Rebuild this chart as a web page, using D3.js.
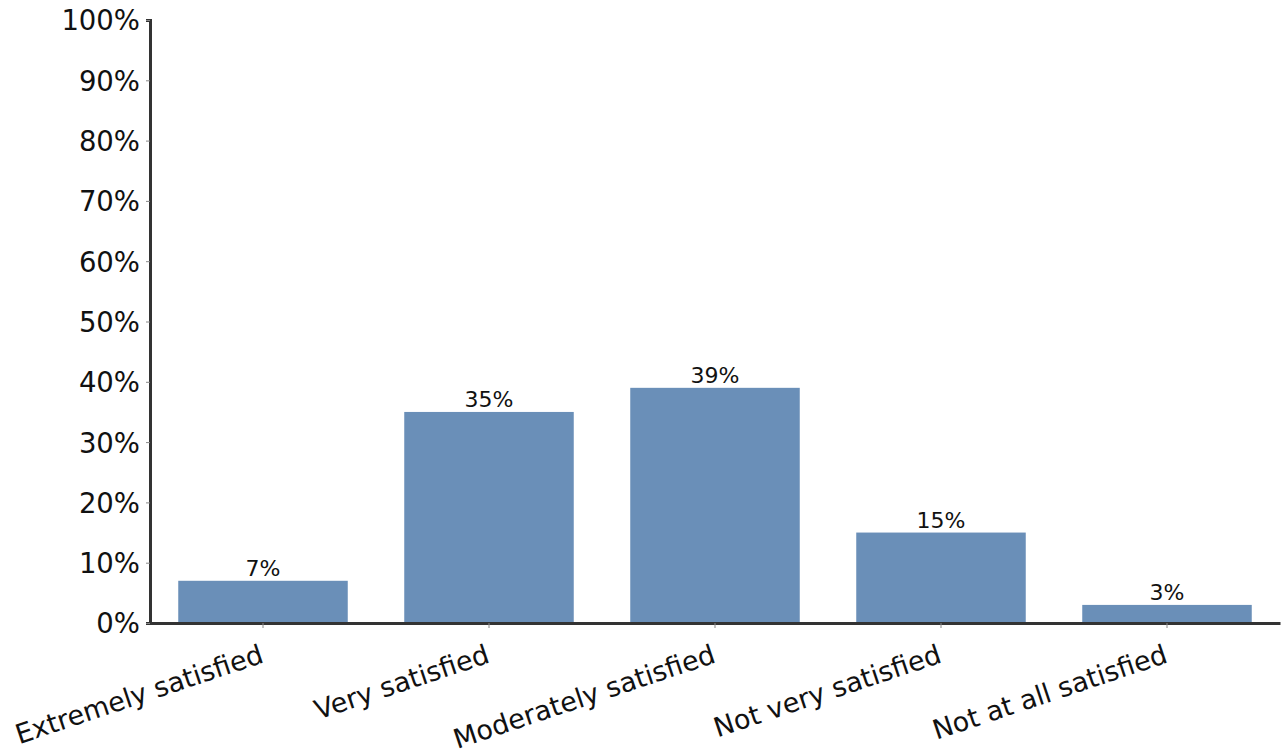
<!DOCTYPE html>
<html>
<head>
<meta charset="utf-8">
<script src="https://cdn.jsdelivr.net/npm/d3@7"></script>
<style>
  html, body { margin: 0; padding: 0; background: #fff; }
  svg text { font-family: "DejaVu Sans", Verdana, sans-serif; fill: #111; }
</style>
</head>
<body>
<svg id="chart" width="1286" height="755"></svg>
<script>
// Satisfaction survey responses
const categories = ["Extremely satisfied", "Very satisfied", "Moderately satisfied", "Not very satisfied", "Not at all satisfied"];
const shares = [7, 35, 39, 15, 3];
const yTicks = [0, 10, 20, 30, 40, 50, 60, 70, 80, 90, 100];

const svg = d3.select("#chart");
const plotLeft = 150, plotRight = 1280, plotTop = 20, plotBottom = 623;

const x = d3.scaleBand()
  .domain(categories)
  .range([plotLeft, plotRight])
  .paddingInner(0.25)
  .paddingOuter(0.125);

const y = d3.scaleLinear().domain([0, 100]).range([plotBottom, plotTop]);

// bars
svg.append("g").selectAll("rect")
  .data(categories)
  .join("rect")
  .attr("x", d => x(d))
  .attr("width", x.bandwidth())
  .attr("y", (d, i) => y(shares[i]))
  .attr("height", (d, i) => y(0) - y(shares[i]))
  .attr("fill", "#6a8fb8");

// value labels
svg.append("g").selectAll("text")
  .data(categories)
  .join("text")
  .attr("x", d => x(d) + x.bandwidth() / 2)
  .attr("y", (d, i) => y(shares[i]) - 5)
  .attr("text-anchor", "middle")
  .style("font-size", "22px")
  .text((d, i) => shares[i] + "%");

// y axis
const yAxis = svg.append("g")
  .attr("transform", `translate(${plotLeft},0)`)
  .call(d3.axisLeft(y).tickValues(yTicks).tickFormat(d => d + "%").tickSize(4).tickPadding(6));
yAxis.select(".domain").attr("stroke", "#333").attr("stroke-width", 3);
yAxis.selectAll(".tick line").attr("stroke", "#888");
yAxis.selectAll(".tick text").style("font-size", "27.5px").attr("dy", "0.36em");

// x axis with slanted category labels
const xAxis = svg.append("g")
  .attr("transform", `translate(0,${plotBottom})`)
  .call(d3.axisBottom(x).tickSize(5).tickSizeOuter(0));
xAxis.select(".domain").attr("stroke", "#333").attr("stroke-width", 3);
xAxis.selectAll(".tick line").attr("stroke", "#888");
xAxis.selectAll(".tick text")
  .style("font-size", "27px")
  .attr("text-anchor", "end")
  .attr("y", 0)
  .attr("dy", 0)
  .attr("transform", "translate(2,39) rotate(-18.5)");
</script>
</body>
</html>
